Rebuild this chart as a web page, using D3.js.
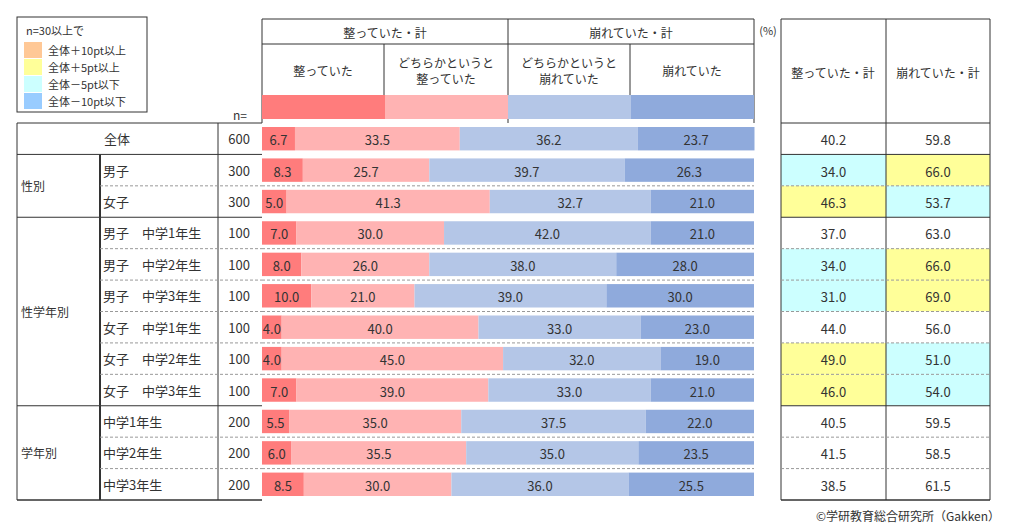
<!DOCTYPE html>
<html><head><meta charset="utf-8">
<script src="https://cdn.jsdelivr.net/npm/d3@7"></script>
<style>body{margin:0;background:#fff}text{font-family:"Noto Sans CJK JP","Noto Sans",sans-serif;fill:#333}</style>
</head><body><svg id="c" width="1017" height="530"></svg>
<script>
const labels=["全体","男子","女子","男子　中学1年生","男子　中学2年生","男子　中学3年生","女子　中学1年生","女子　中学2年生","女子　中学3年生","中学1年生","中学2年生","中学3年生"];
const ns=[600,300,300,100,100,100,100,100,100,200,200,200];
const s1=[6.7,8.3,5.0,7.0,8.0,10.0,4.0,4.0,7.0,5.5,6.0,8.5];
const s2=[33.5,25.7,41.3,30.0,26.0,21.0,40.0,45.0,39.0,35.0,35.5,30.0];
const s3=[36.2,39.7,32.7,42.0,38.0,39.0,33.0,32.0,33.0,37.5,35.0,36.0];
const s4=[23.7,26.3,21.0,21.0,28.0,30.0,23.0,19.0,21.0,22.0,23.5,25.5];
const tot1=[40.2,34.0,46.3,37.0,34.0,31.0,44.0,49.0,46.0,40.5,41.5,38.5];
const tot2=[59.8,66.0,53.7,63.0,66.0,69.0,56.0,51.0,54.0,59.5,58.5,61.5];
const groups=[{name:"",from:0,to:0},{name:"性別",from:1,to:2},{name:"性学年別",from:3,to:8},{name:"学年別",from:9,to:11}];
const segNames=["整っていた","どちらかというと\n整っていた","どちらかというと\n崩れていた","崩れていた"];
const colors=["#ff7c7c","#ffb3b3","#b4c6e7","#8faadc"];
const legend=[["全体＋10pt以上","#ffc896"],["全体＋5pt以上","#ffff99"],["全体－5pt以下","#ccffff"],["全体－10pt以下","#99ccff"]];

const svg=d3.select("#c");
const x=d3.scaleLinear().domain([0,100]).range([262,754]);
const y=d3.scaleBand().domain(d3.range(12)).range([123,500]);
const L="#333";
function line(x1,y1,x2,y2,w=1,dash=null){const l=svg.append("line").attr("x1",x1).attr("y1",y1).attr("x2",x2).attr("y2",y2).attr("stroke",dash?"#999":L).attr("stroke-width",w);if(dash)l.attr("stroke-dasharray",dash);}
function txt(t,px,py,anchor="middle",size=12){return svg.append("text").attr("x",px).attr("y",py).attr("text-anchor",anchor).attr("dominant-baseline","central").attr("font-size",size).text(t);}

// legend
svg.append("rect").attr("x",17).attr("y",17).attr("width",130).attr("height",95).attr("fill","none").attr("stroke",L);
txt("n=30以上で",26,30,"start",11);
legend.forEach((d,i)=>{svg.append("rect").attr("x",24).attr("y",42+i*17).attr("width",18).attr("height",16).attr("fill",d[1]);txt(d[0],48,50+i*17,"start",11);});
txt("n=",240,114,"middle",12);

// header
const hx=[262,384,508,630,754];
line(262,19,754,19);line(262,44,754,44);line(262,19,262,123);line(754,19,754,123);
line(508,19,508,123);line(384,44,384,95);line(630,44,630,95);
txt("整っていた・計",385,32);txt("崩れていた・計",631,32);
segNames.forEach((n,i)=>{const parts=n.split("\n");const cx=(hx[i]+hx[i+1])/2;parts.forEach((p,j)=>txt(p,cx,70+(j-(parts.length-1)/2)*16));});
const hb=[0,25,25,25,25];
const headVals=[25,25,25,25];let acc=0;
headVals.forEach((v,i)=>{svg.append("rect").attr("x",x(acc)).attr("y",95).attr("width",x(acc+v)-x(acc)).attr("height",24).attr("fill",colors[i]);acc+=v;});
txt("(%)",768,30,"middle",11);

// rows bars
const series=[s1,s2,s3,s4];
d3.range(12).forEach(r=>{
  let a=0;const y0=y(r)+4,h=y.bandwidth()-8;
  series.forEach((s,i)=>{const v=s[r];svg.append("rect").attr("x",x(a)).attr("y",y0).attr("width",x(a+v)-x(a)).attr("height",h).attr("fill",colors[i]);
    txt(v.toFixed(1),(x(a)+x(a+v))/2,y(r)+y.bandwidth()/2+1,"middle",13);a+=v;});
});

// left table
line(17,123,262,123);line(17,123,17,500);line(17,500,262,500);line(218,123,218,500);
groups.forEach(g=>{
  const top=y(g.from),bot=y(g.to)+y.bandwidth();
  line(17,bot,262,bot);
  if(g.name){txt(g.name,21,(top+bot)/2,"start",12);line(100,top,100,bot,2);
    for(let r=g.from+1;r<=g.to;r++)line(100,y(r),262,y(r),1,"3,2");}
});
d3.range(12).forEach(r=>{const cy=y(r)+y.bandwidth()/2;
  if(r===0)txt(labels[r],117,cy,"middle",13);else txt(labels[r],103,cy,"start",13);
  txt(ns[r],250,cy,"end",13);
  if(r>0&&![1,3,9].includes(r))line(262,y(r),754,y(r),1,"3,2");
});

// right table
const rx=[781,886,990];
function hl(d){const v=d;if(v>=10)return"#ffc896";if(v>=5)return"#ffff99";if(v<=-10)return"#99ccff";if(v<=-5)return"#ccffff";return"#fff";}
d3.range(12).forEach(r=>{
  [tot1,tot2].forEach((t,i)=>{svg.append("rect").attr("x",rx[i]).attr("y",y(r)).attr("width",rx[i+1]-rx[i]).attr("height",y.bandwidth()).attr("fill",r===0?"#fff":hl(t[r]-t[0]));
    txt(t[r].toFixed(1),(rx[i]+rx[i+1])/2,y(r)+y.bandwidth()/2+1,"middle",13);});
});
line(781,19,990,19);line(781,123,990,123);line(781,19,781,500);line(886,19,886,500);line(990,19,990,500);line(781,500,990,500);
txt("整っていた・計",833,72);txt("崩れていた・計",938,72);
groups.forEach(g=>{const bot=y(g.to)+y.bandwidth();line(781,bot,990,bot);for(let r=g.from+1;r<=g.to;r++)line(781,y(r),990,y(r),1,"3,2");});

txt("©学研教育総合研究所（Gakken）",1000,515,"end",12);
</script></body></html>
